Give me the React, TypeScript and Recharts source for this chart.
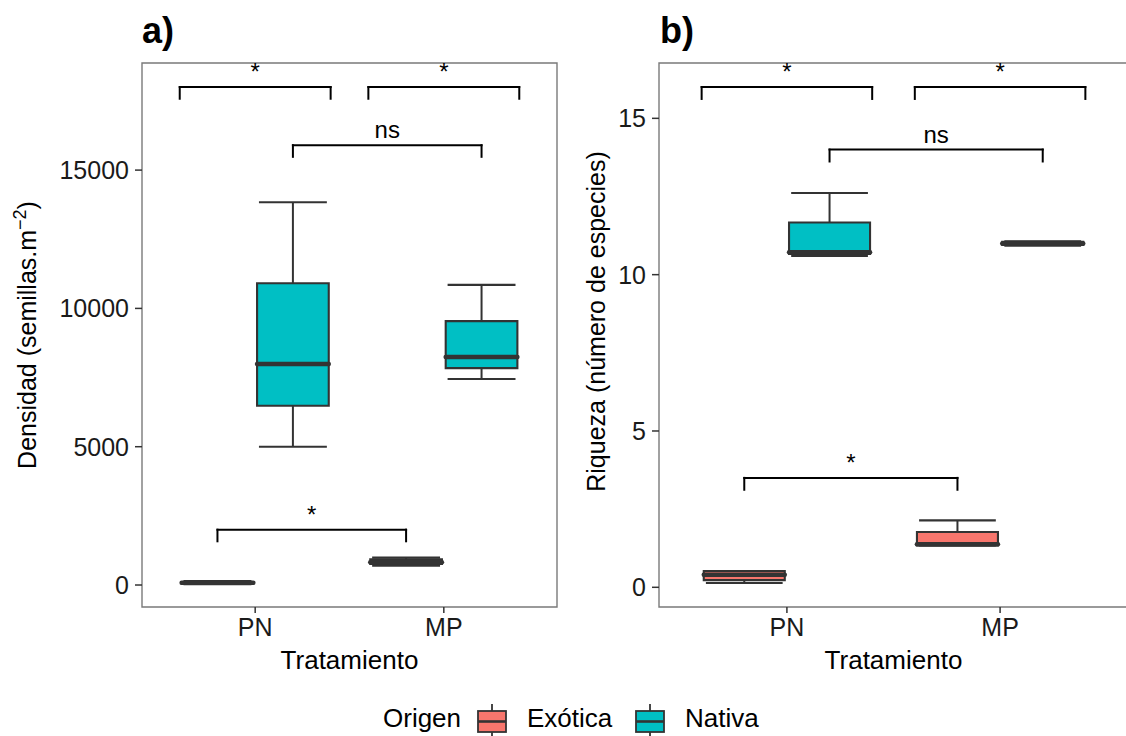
import React from 'react';
import { ComposedChart, XAxis, YAxis, ReferenceArea, ReferenceLine, ReferenceDot } from 'recharts';

// ---------- data ----------
const categories = ['PN', 'MP'];
const origins = ['Exótica', 'Nativa'];
const originColors = ['#F8766D', '#00BFC4'];
const dodge = [-0.2, 0.2];

// five-number summaries per category: [min, q1, median, q3, max]
const densExotica = [
  [30, 50, 80, 110, 140],
  [700, 760, 820, 930, 990],
];
const densNativa = [
  [5000, 6480, 7990, 10910, 13840],
  [7450, 7840, 8240, 9540, 10850],
];
const riqExotica = [
  [0.14, 0.23, 0.4, 0.52, 0.52],
  [1.34, 1.34, 1.38, 1.77, 2.14],
];
const riqNativa = [
  [10.6, 10.66, 10.72, 11.67, 12.61],
  [10.93, 10.95, 11.0, 11.05, 11.07],
];

const densTicks = [0, 5000, 10000, 15000];
const riqTicks = [0, 5, 10, 15];
const densDomain = [-795, 18872];
const riqDomain = [-0.63, 16.77];

// significance brackets: [x from, x to, y, label]
const densBrackets: [number, number, number, string][] = [
  [0.6, 1.4, 18000, '*'],
  [1.6, 2.4, 18000, '*'],
  [1.2, 2.2, 15900, 'ns'],
  [0.8, 1.8, 2000, '*'],
];
const riqBrackets: [number, number, number, string][] = [
  [0.6, 1.4, 16, '*'],
  [1.6, 2.4, 16, '*'],
  [1.2, 2.2, 14, 'ns'],
  [0.8, 1.8, 3.5, '*'],
];
const densTip = 420;
const riqTip = 0.38;

const FONT = '"Liberation Sans", Arial, Helvetica, sans-serif';
const DARK = '#333333';

type PanelProps = {
  exo: number[][];
  nat: number[][];
  ticks: number[];
  yDomain: number[];
  brackets: [number, number, number, string][];
  tip: number;
  width: number;
  height: number;
  yAxisWidth: number;
  marginRight: number;
};

function BoxPanel({ exo, nat, ticks, yDomain, brackets, tip, width, height, yAxisWidth, marginRight }: PanelProps) {
  const groups = [exo, nat];
  const whiskers: React.ReactNode[] = [];
  const boxes: React.ReactNode[] = [];
  const medians: React.ReactNode[] = [];
  const boxHalf = 0.19;
  const capHalf = 0.18;

  categories.forEach((cat, i) => {
    groups.forEach((stats, j) => {
      const [mn, q1, md, q3, mx] = stats[i];
      const c = i + 1 + dodge[j];
      const key = `${cat}-${j}`;
      whiskers.push(
        <ReferenceLine key={key + 'wl'} segment={[{ x: c, y: mn }, { x: c, y: q1 }]} stroke={DARK} strokeWidth={2} />,
        <ReferenceLine key={key + 'wu'} segment={[{ x: c, y: q3 }, { x: c, y: mx }]} stroke={DARK} strokeWidth={2} />,
        <ReferenceLine key={key + 'cl'} segment={[{ x: c - capHalf, y: mn }, { x: c + capHalf, y: mn }]} stroke={DARK} strokeWidth={2.1} />,
        <ReferenceLine key={key + 'cu'} segment={[{ x: c - capHalf, y: mx }, { x: c + capHalf, y: mx }]} stroke={DARK} strokeWidth={2.1} />
      );
      boxes.push(
        <ReferenceArea
          key={key + 'box'}
          x1={c - boxHalf}
          x2={c + boxHalf}
          y1={q1}
          y2={q3}
          fill={originColors[j]}
          fillOpacity={1}
          stroke={DARK}
          strokeWidth={2.1}
        />
      );
      medians.push(
        <ReferenceLine
          key={key + 'med'}
          segment={[{ x: c - boxHalf, y: md }, { x: c + boxHalf, y: md }]}
          stroke={DARK}
          strokeWidth={4.5}
          strokeLinecap="round"
        />
      );
    });
  });

  const bracketEls: React.ReactNode[] = [];
  brackets.forEach(([x1, x2, y, label], k) => {
    bracketEls.push(
      <ReferenceLine key={'bh' + k} segment={[{ x: x1, y }, { x: x2, y }]} stroke="#000" strokeWidth={2} strokeLinecap="square" />,
      <ReferenceLine key={'bl' + k} segment={[{ x: x1, y }, { x: x1, y: y - tip }]} stroke="#000" strokeWidth={2} strokeLinecap="square" />,
      <ReferenceLine key={'br' + k} segment={[{ x: x2, y }, { x: x2, y: y - tip }]} stroke="#000" strokeWidth={2} strokeLinecap="square" />,
      <ReferenceDot
        key={'bt' + k}
        x={(x1 + x2) / 2}
        y={y}
        r={0}
        shape={(p: any) => (
          <text x={p.cx} y={p.cy - 7} textAnchor="middle" fontSize={24} fontFamily={FONT} fill="#000">
            {label}
          </text>
        )}
      />
    );
  });

  return (
    <ComposedChart
      width={width}
      height={height}
      margin={{ top: 63, right: marginRight, bottom: 0, left: 0 }}
      data={[]}
      style={{ fontFamily: FONT }}
    >
      <XAxis
        type="number"
        dataKey="x"
        domain={[0.4, 2.6]}
        ticks={[1, 2]}
        allowDataOverflow
        tickFormatter={(v: number) => categories[v - 1]}
        height={height - 607}
        axisLine={false}
        tickLine={{ stroke: DARK, strokeWidth: 1.5 }}
        tickSize={6}
        tickMargin={5}
        tick={{ fontSize: 25, fill: '#1a1a1a', fontFamily: FONT }}
      />
      <YAxis
        type="number"
        domain={yDomain}
        ticks={ticks}
        allowDataOverflow
        interval={0}
        width={yAxisWidth}
        axisLine={false}
        tickLine={{ stroke: DARK, strokeWidth: 1.5 }}
        tickSize={7}
        tickMargin={6}
        tick={{ fontSize: 25, fill: '#1a1a1a', fontFamily: FONT }}
      />
      <ReferenceArea
        x1={0.4}
        x2={2.6}
        y1={yDomain[0]}
        y2={yDomain[1]}
        fill="none"
        fillOpacity={0}
        stroke="#7a7a7a"
        strokeWidth={1.4}
      />
      {whiskers}
      {boxes}
      {medians}
      {bracketEls}
    </ComposedChart>
  );
}

function LegendKey({ x, color }: { x: number; color: string }) {
  return (
    <g>
      <line x1={x + 14} y1={704} x2={x + 14} y2={736} stroke={DARK} strokeWidth={1.8} />
      <rect x={x} y={711} width={28} height={21} fill={color} stroke={DARK} strokeWidth={1.8} />
      <line x1={x} y1={721.5} x2={x + 28} y2={721.5} stroke={DARK} strokeWidth={2.6} />
    </g>
  );
}

export default function App() {
  return (
    <div
      style={{
        position: 'absolute',
        left: 0,
        top: 0,
        width: 1126,
        height: 736,
        overflow: 'hidden',
        background: '#fff',
        fontFamily: FONT,
      }}
    >
      <div style={{ position: 'absolute', left: 0, top: 0 }}>
        <BoxPanel
          exo={densExotica}
          nat={densNativa}
          ticks={densTicks}
          yDomain={densDomain}
          brackets={densBrackets}
          tip={densTip}
          width={570}
          height={700}
          yAxisWidth={142}
          marginRight={13}
        />
      </div>
      <div style={{ position: 'absolute', left: 580, top: 0 }}>
        <BoxPanel
          exo={riqExotica}
          nat={riqNativa}
          ticks={riqTicks}
          yDomain={riqDomain}
          brackets={riqBrackets}
          tip={riqTip}
          width={560}
          height={700}
          yAxisWidth={79}
          marginRight={12}
        />
      </div>
      <svg
        width={1126}
        height={736}
        style={{ position: 'absolute', left: 0, top: 0, pointerEvents: 'none' }}
        fontFamily={FONT}
      >
        <text x={142} y={43} fontSize={36} fontWeight="bold" fill="#000">a)</text>
        <text x={660} y={43} fontSize={36} fontWeight="bold" fill="#000">b)</text>
        <text x={349.5} y={669} fontSize={26} textAnchor="middle" fill="#000">Tratamiento</text>
        <text x={893.5} y={669} fontSize={26} textAnchor="middle" fill="#000">Tratamiento</text>
        <text x={36} y={335} fontSize={25} textAnchor="middle" fill="#000" transform="rotate(-90 36 335)">
          Densidad (semillas.m
          <tspan fontSize={18} dy={-10}>−2</tspan>
          <tspan dy={10}>)</tspan>
        </text>
        <text x={605} y={321.5} fontSize={25} textAnchor="middle" fill="#000" transform="rotate(-90 605 321.5)">
          Riqueza (número de especies)
        </text>
        <text x={383} y={727} fontSize={26} fill="#000">Origen</text>
        <LegendKey x={478} color={originColors[0]} />
        <text x={527} y={727} fontSize={26} fill="#000">{origins[0]}</text>
        <LegendKey x={636} color={originColors[1]} />
        <text x={685} y={727} fontSize={26} fill="#000">{origins[1]}</text>
      </svg>
    </div>
  );
}
